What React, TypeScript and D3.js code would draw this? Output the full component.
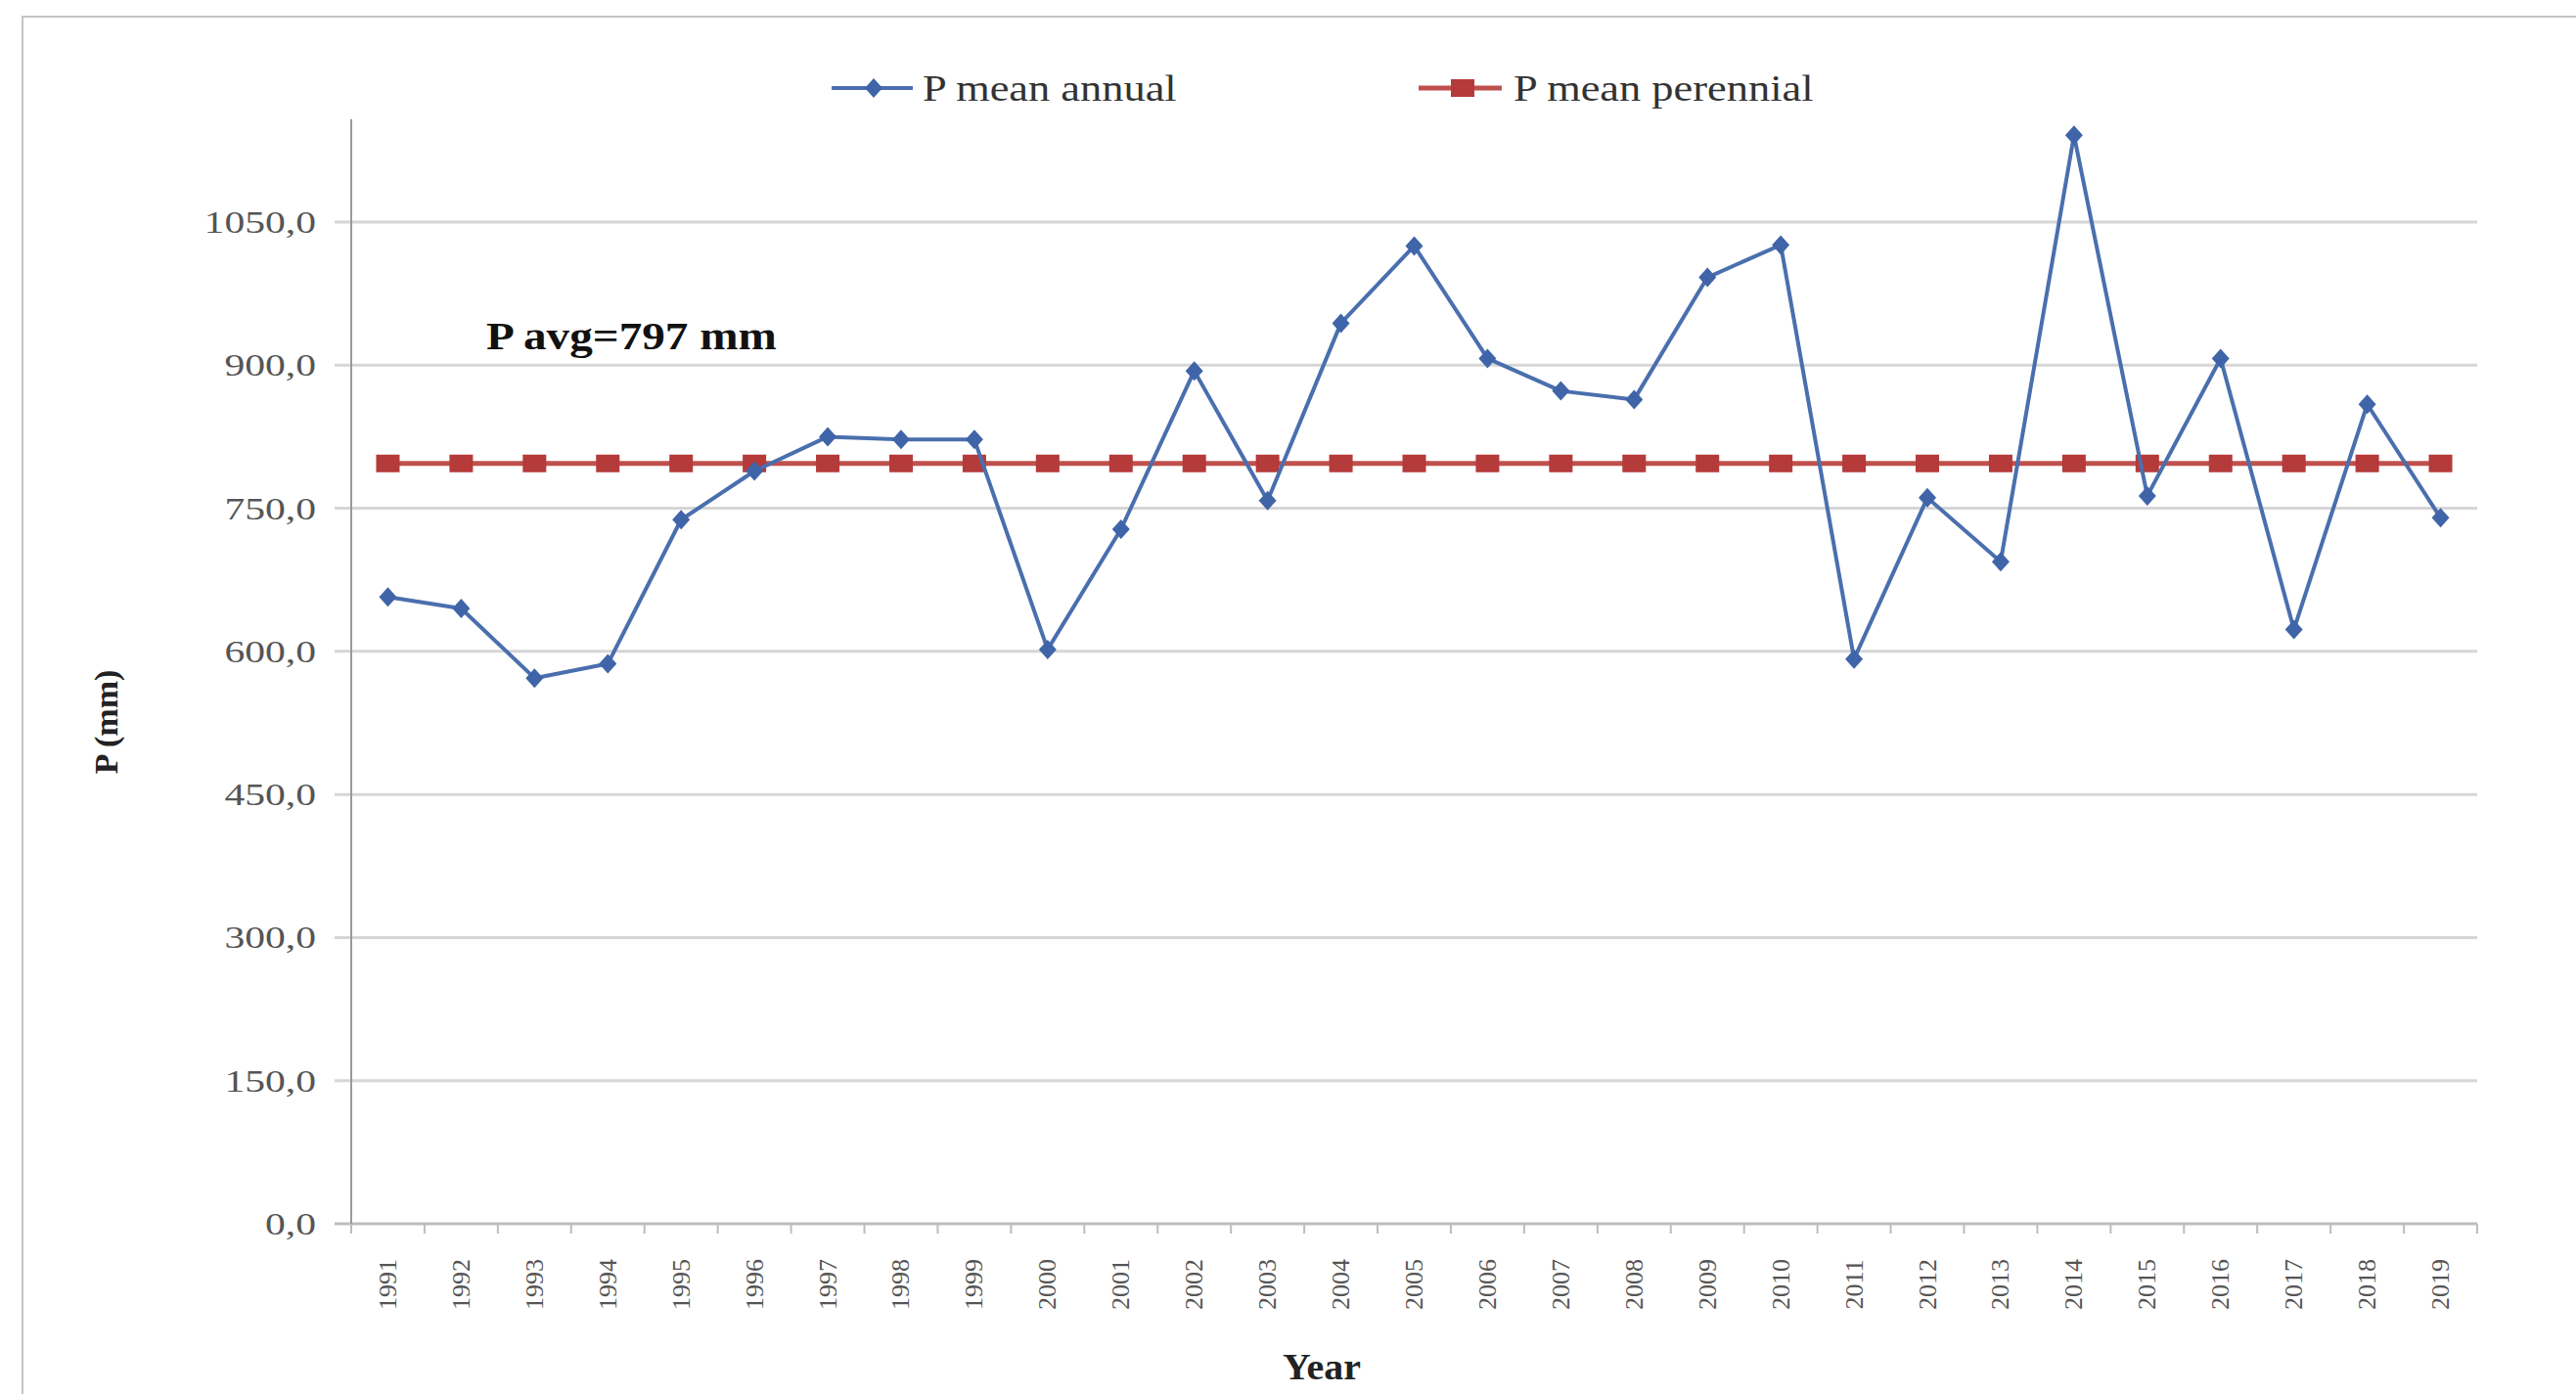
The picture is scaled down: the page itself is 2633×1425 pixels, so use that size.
import React from "react";
import * as d3 from "d3";

const years = ["1991","1992","1993","1994","1995","1996","1997","1998","1999","2000","2001","2002","2003","2004","2005","2006","2007","2008","2009","2010","2011","2012","2013","2014","2015","2016","2017","2018","2019"];
const annual = [657,645,572,587,738,789,825,822,822,602,728,894,758,944,1025,907,873,864,992,1026,592,761,694,1141,763,907,623,859,740];
const perennial = [797,797,797,797,797,797,797,797,797,797,797,797,797,797,797,797,797,797,797,797,797,797,797,797,797,797,797,797,797];
const yTicks = [0,150,300,450,600,750,900,1050];
const seriesNames = ["P mean annual", "P mean perennial"];
const annotation = "P avg=797 mm";
const xTitle = "Year";
const yTitle = "P (mm)";

const FONT = "'Liberation Serif', 'DejaVu Serif', serif";
const BLUE = "#4A6FAE";
const BLUE_M = "#3F64A8";
const RED = "#C0504D";
const RED_M = "#B53A3A";

function SText(props: any) {
  const { x, y, sx = 1, children, ...rest } = props;
  return (
    <text transform={`translate(${x},${y}) scale(${sx},1)`} fontFamily={FONT} {...rest}>
      {children}
    </text>
  );
}

export default function App() {
  const W = 2633, H = 1425;
  const left = 359, right = 2532;
  const y = d3.scaleLinear().domain([0, 1050]).range([1251, 227]);
  const x = d3.scaleBand<string>().domain(years).range([left, right]);
  const cx = (d: string) => (x(d) as number) + x.bandwidth() / 2;
  const yTop = y(1158);

  const lineGen = d3.line<number>()
    .x((_, i) => cx(years[i]))
    .y((v) => y(v));

  const diamond = (px: number, py: number, w = 9, h = 10) =>
    `M${px},${py - h}L${px + w},${py}L${px},${py + h}L${px - w},${py}Z`;

  const fmt = (v: number) => v.toFixed(1).replace(".", ",");

  return (
    <svg width={W} height={H} style={{ position: "absolute", left: 0, top: 0, background: "#fff" }}>
      <rect x={23} y={17} width={2700} height={1500} fill="none" stroke="#c4c4c4" strokeWidth={2} />

      {/* gridlines */}
      {yTicks.map((t) => (
        <line key={"g" + t} x1={342} x2={right} y1={y(t)} y2={y(t)} stroke={t === 0 ? "#bdbdbd" : "#d6d6d6"} strokeWidth={3} />
      ))}
      {/* y axis */}
      <line x1={left} x2={left} y1={yTop} y2={y(0)} stroke="#9a9a9a" strokeWidth={2} />
      {/* x ticks */}
      {years.map((d, i) => (
        <line key={"xt" + d} x1={(x(d) as number)} x2={(x(d) as number)} y1={y(0)} y2={y(0) + 10} stroke="#bdbdbd" strokeWidth={2} />
      ))}
      <line x1={right} x2={right} y1={y(0)} y2={y(0) + 10} stroke="#bdbdbd" strokeWidth={2} />

      {/* y tick labels */}
      {yTicks.map((t) => (
        <SText key={"yl" + t} x={323} y={y(t) + 11} sx={1.3} fontSize={32} textAnchor="end" fill="#555">
          {fmt(t)}
        </SText>
      ))}

      {/* x tick labels */}
      {years.map((d) => (
        <text key={"xl" + d} transform={`translate(${cx(d)},1313) rotate(-90)`} fontFamily={FONT} fontSize={26}
          textAnchor="middle" dominantBaseline="central" fill="#555">
          {d}
        </text>
      ))}

      {/* perennial line */}
      <path d={lineGen(perennial) || ""} fill="none" stroke={RED} strokeWidth={5} />
      {perennial.map((v, i) => (
        <rect key={"r" + i} x={cx(years[i]) - 12} y={y(v) - 9} width={24} height={18} fill={RED_M} />
      ))}

      {/* annual line */}
      <path d={lineGen(annual) || ""} fill="none" stroke={BLUE} strokeWidth={4} strokeLinejoin="round" />
      {annual.map((v, i) => (
        <path key={"d" + i} d={diamond(cx(years[i]), y(v))} fill={BLUE_M} />
      ))}

      {/* legend */}
      <line x1={850} x2={933} y1={90} y2={90} stroke={BLUE} strokeWidth={4} />
      <path d={diamond(893, 90)} fill={BLUE_M} />
      <SText x={943} y={103} sx={1.2} fontSize={37} fill="#333">{seriesNames[0]}</SText>

      <line x1={1450} x2={1535} y1={90} y2={90} stroke={RED} strokeWidth={5} />
      <rect x={1483} y={81} width={24} height={18} fill={RED_M} />
      <SText x={1547} y={103} sx={1.2} fontSize={37} fill="#333">{seriesNames[1]}</SText>

      {/* annotation */}
      <SText x={497} y={357} sx={1.18} fontSize={40} fontWeight="bold" fill="#111">{annotation}</SText>

      {/* axis titles */}
      <text transform="translate(108,738) rotate(-90)" fontFamily={FONT} fontSize={34} fontWeight="bold"
        textAnchor="middle" dominantBaseline="central" fill="#222">
        {yTitle}
      </text>
      <SText x={1351} y={1410} sx={1.05} fontSize={38} fontWeight="bold" textAnchor="middle" fill="#222">{xTitle}</SText>
    </svg>
  );
}
